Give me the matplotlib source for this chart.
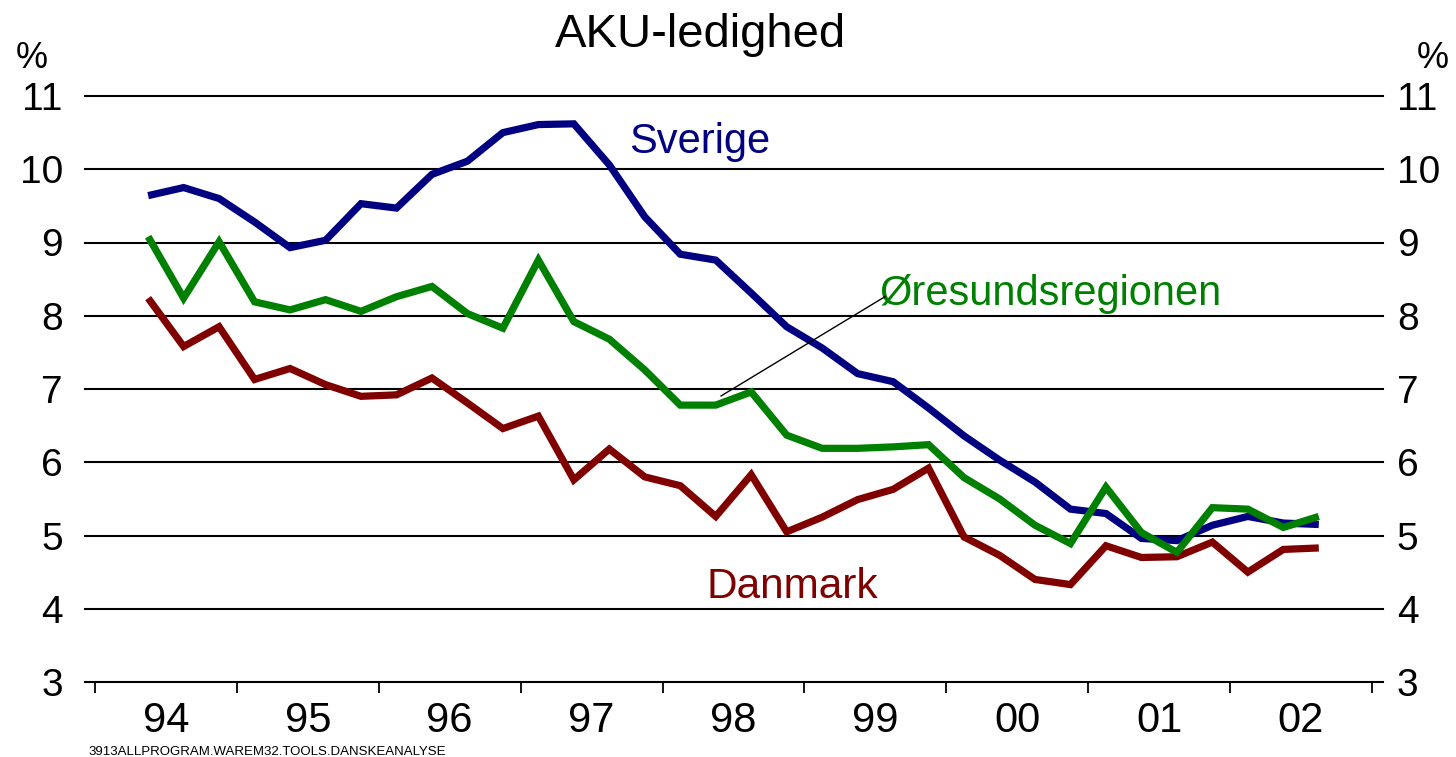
import numpy as np
import matplotlib
matplotlib.use("Agg")
import matplotlib.pyplot as plt

plt.rcParams['font.family'] = ['Liberation Sans', 'DejaVu Sans']

# ---------------- data (quarterly, 94Q2 .. 02Q3) ----------------
year_labels = ["94", "95", "96", "97", "98", "99", "00", "01", "02"]

sverige = [9.64, 9.75, 9.60, 9.28, 8.93, 9.03, 9.53, 9.47, 9.93, 10.11, 10.50, 10.61,
           10.62, 10.06, 9.35, 8.84, 8.76, 8.31, 7.85, 7.56, 7.21, 7.10, 6.74, 6.36,
           6.03, 5.73, 5.36, 5.30, 4.96, 4.93, 5.14, 5.26, 5.17, 5.15]

oresund = [9.08, 8.24, 9.01, 8.19, 8.08, 8.22, 8.06, 8.26, 8.40, 8.03, 7.83, 8.76,
           7.92, 7.68, 7.26, 6.78, 6.78, 6.96, 6.37, 6.19, 6.19, 6.21, 6.24, 5.79,
           5.50, 5.14, 4.89, 5.66, 5.04, 4.77, 5.38, 5.36, 5.11, 5.26]

danmark = [8.24, 7.58, 7.85, 7.13, 7.28, 7.06, 6.90, 6.92, 7.15, 6.81, 6.46, 6.63,
           5.76, 6.18, 5.80, 5.68, 5.26, 5.83, 5.05, 5.25, 5.49, 5.63, 5.92, 4.98,
           4.73, 4.40, 4.33, 4.86, 4.70, 4.71, 4.91, 4.50, 4.81, 4.83]

y_ticks = [3, 4, 5, 6, 7, 8, 9, 10, 11]

# ---------------- figure ----------------
W, H = 1456, 757
fig = plt.figure(figsize=(W / 100, H / 100), dpi=100)
ax_left, ax_right, ax_top, ax_bot = 85, 1383, 96, 682
ax = fig.add_axes([ax_left / W, 1 - ax_bot / H, (ax_right - ax_left) / W, (ax_bot - ax_top) / H])

# quarter index: first quarter of 94 spans [0,1]; first observation is 94Q2
x = np.arange(len(sverige)) + 1.5

for yv in y_ticks:
    ax.axhline(yv, color='black', lw=1.5, zorder=1, clip_on=False)

line_kw = dict(lw=5.2, solid_joinstyle='miter', solid_capstyle='butt', zorder=3)
ax.plot(x, danmark, color='#800000', **line_kw)
ax.plot(x, sverige, color='#000080', **line_kw)
ax.plot(x, oresund, color='#008000', **line_kw)

ax.set_xlim(-0.28, 36.31)
ax.set_ylim(3, 11)

for s in ax.spines.values():
    s.set_visible(False)

# x ticks: year boundaries (major, no labels), year centres (minor, labels)
ax.set_xticks(np.arange(0, 37, 4))
ax.set_xticks(np.arange(len(year_labels)) * 4 + 2, minor=True)
ax.set_xticklabels([], minor=False)
ax.set_xticklabels(year_labels, minor=True, fontsize=30)
ax.tick_params(axis='x', which='major', direction='out', length=8, width=1.3, color='black')
ax.tick_params(axis='x', which='minor', length=0, pad=14)

# y ticks left
ax.set_yticks(y_ticks)
ax.set_yticklabels([str(v) for v in y_ticks], fontsize=28)
ax.tick_params(axis='y', length=0, pad=16)

# y ticks right
ax2 = ax.twinx()
ax2.set_ylim(3, 11)
ax2.set_yticks(y_ticks)
ax2.set_yticklabels([str(v) for v in y_ticks], fontsize=28)
ax2.tick_params(axis='y', length=0, pad=10)
for s in ax2.spines.values():
    s.set_visible(False)

# titles / units
fig.text(700 / W, 1 - 47 / H, "AKU-ledighed", ha='center', va='baseline', fontsize=34)
fig.text(32 / W, 1 - 68 / H, "%", ha='center', va='baseline', fontsize=26)
fig.text(1433 / W, 1 - 68 / H, "%", ha='center', va='baseline', fontsize=26)

# series labels
ax.text(15.06, 10.22, "Sverige", color='#000080', fontsize=30, ha='left', va='baseline')
ax.text(22.13, 8.15, "Øresundsregionen", color='#008000', fontsize=30, ha='left', va='baseline')
ax.text(17.23, 4.15, "Danmark", color='#800000', fontsize=30.5, ha='left', va='baseline')

# leader line for Øresundsregionen
ax.plot([17.65, 22.27], [6.905, 8.26], color='black', lw=1.0, zorder=4)

# footnote
fig.text(88 / W, 1 - 755 / H, "3913ALLPROGRAM.WAREM32.TOOLS.DANSKEANALYSE",
         ha='left', va='baseline', fontsize=9.5,
         family=['Liberation Sans Narrow', 'Liberation Sans', 'DejaVu Sans'])

fig.savefig("out.png", dpi=100)
